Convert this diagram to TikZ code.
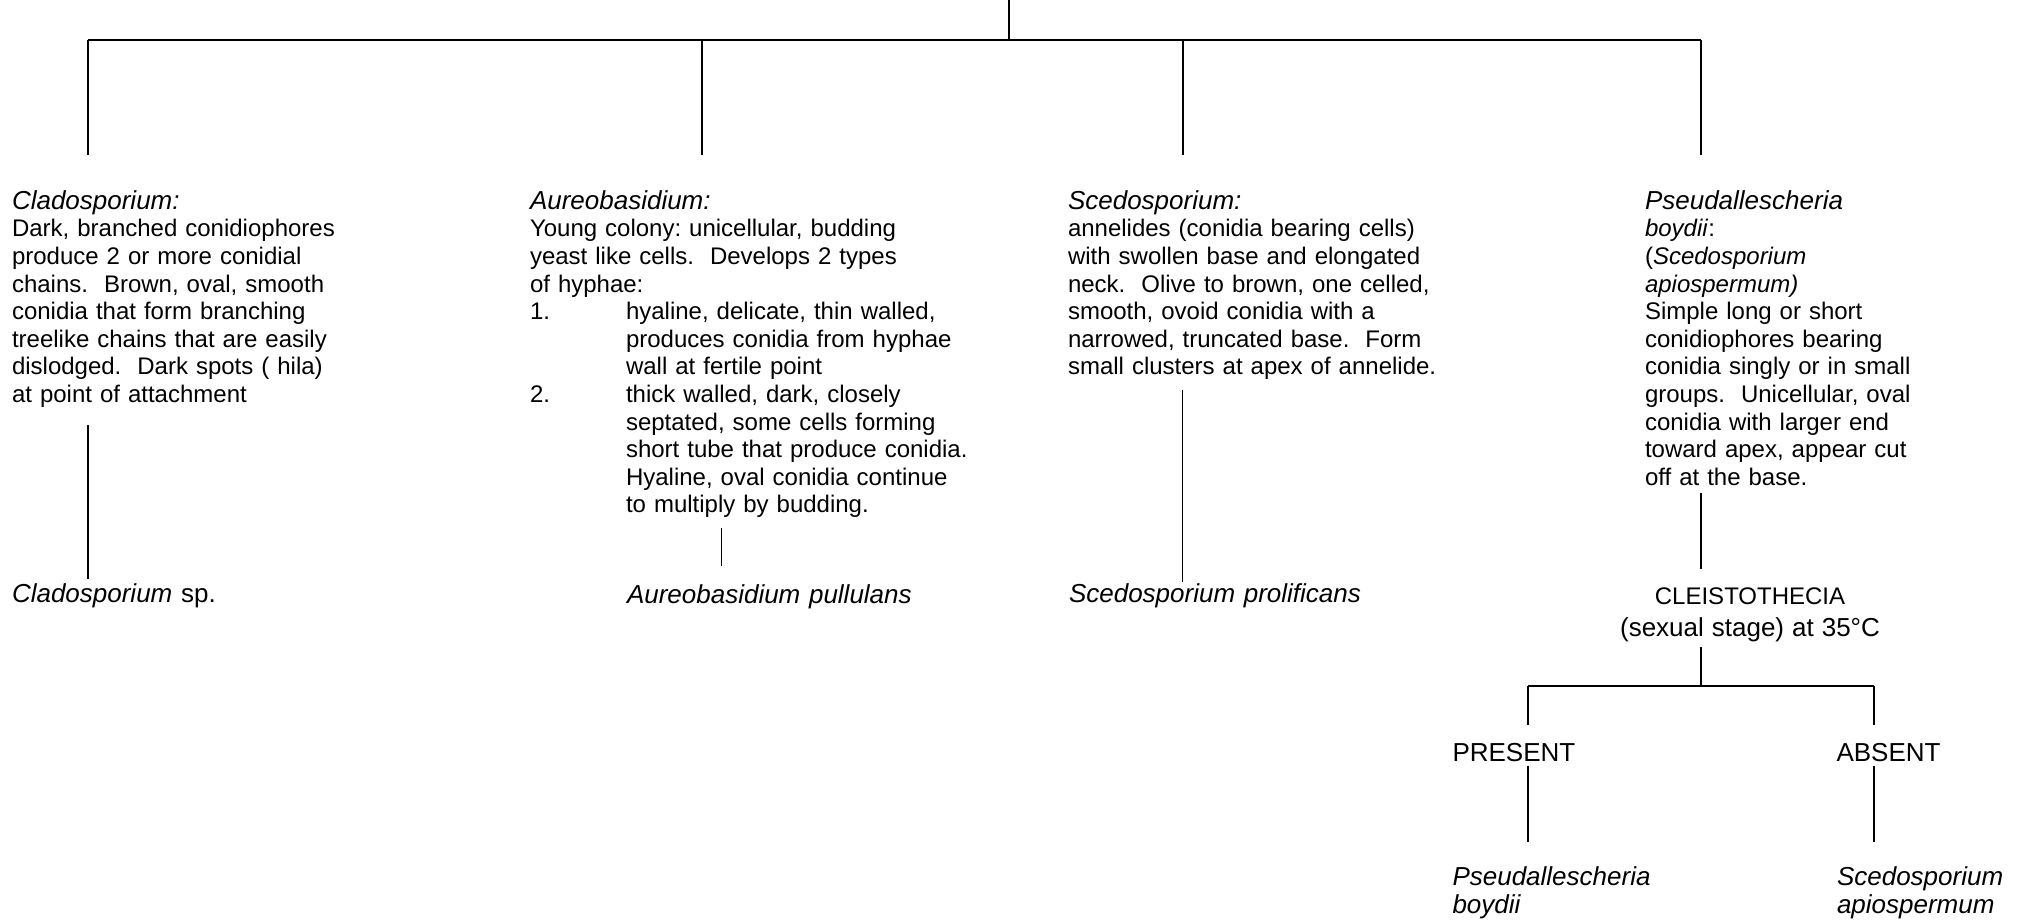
\documentclass[tikz,border=0pt]{standalone}
\usepackage{fontspec}
\setmainfont{Liberation Sans}
\usetikzlibrary{calc}
\frenchspacing

% italic genus heading, one size above the body text
\newcommand{\genushead}[1]{{\fontsize{13}{13.8}\selectfont\itshape #1}}
% hanging list number and indent for the numbered hyphae types
\newcommand{\listnum}[1]{\makebox[48pt][l]{#1}}
\newcommand{\listind}{\hspace*{48pt}}

\begin{document}
\begin{tikzpicture}[x=0.5pt,y=-0.5pt,
  conn/.style={draw=black,line width=0.7pt},
  desc/.style={inner sep=0pt,outer sep=0pt,anchor=base west,align=left,
    text width=#1,font=\fontsize{12}{13.8}\selectfont},
  desc/.default=300pt,
  result/.style={inner sep=0pt,outer sep=0pt,anchor=base west,align=left,
    text width=200pt,font=\fontsize{13}{14.2}\selectfont},
  stage/.style={inner sep=0pt,outer sep=0pt,anchor=base,align=center,
    text width=180pt,font=\fontsize{12}{13.8}\selectfont}]

\useasboundingbox (0,0) rectangle (2021,922);

% ---------- descriptions of the four genera ----------
\node[desc] (clad) at (12,209.3) {\genushead{Cladosporium:}\\
Dark, branched conidiophores\\
produce 2 or more conidial\\
chains.\ \ Brown, oval, smooth\\
conidia that form branching\\
treelike chains that are easily\\
dislodged.\ \ Dark spots ( hila)\\
at point of attachment};

\node[desc] (aureo) at (530,209.3) {\genushead{Aureobasidium:}\\
Young colony: unicellular, budding\\
yeast like cells.\ \ Develops 2 types\\
of hyphae:\\
\listnum{1.}hyaline, delicate, thin walled,\\
\listind produces conidia from hyphae\\
\listind wall at fertile point\\
\listnum{2.}thick walled, dark, closely\\
\listind septated, some cells forming\\
\listind short tube that produce conidia.\\
\listind Hyaline, oval conidia continue\\
\listind to multiply by budding.};

\node[desc] (sced) at (1068,209.3) {\genushead{Scedosporium:}\\
annelides (conidia bearing cells)\\
with swollen base and elongated\\
neck.\ \ Olive to brown, one celled,\\
smooth, ovoid conidia with a\\
narrowed, truncated base.\ \ Form\\
small clusters at apex of annelide.};

\node[desc=180pt] (pseud) at (1645,209.3) {\genushead{Pseudallescheria}\\
\textit{boydii}:\\
(\textit{Scedosporium}\\
\textit{apiospermum)}\\
Simple long or short\\
conidiophores bearing\\
conidia singly or in small\\
groups.\ \ Unicellular, oval\\
conidia with larger end\\
toward apex, appear cut\\
off at the base.};

% ---------- identifications ----------
\node[result] (cladsp) at (12,602.7) {\textit{Cladosporium} sp.};
\node[result] (aureosp) at (627,603.3) {\textit{Aureobasidium pullulans}};
\node[result] (scedsp) at (1069,602.7) {\textit{Scedosporium prolificans}};

\node[stage] (cleist) at (1750,604) {CLEISTOTHECIA\\[2.2pt]
{\fontsize{13}{13.8}\selectfont (sexual stage) at 35°C}};

\node[result] (present) at (1452.5,761) {PRESENT};
\node[result] (absent) at (1836.5,761) {ABSENT};

\node[result] (pboyd) at (1452.5,885) {\textit{Pseudallescheria}\\\textit{boydii}};
\node[result] (sapio) at (1837,885) {\textit{Scedosporium}\\\textit{apiospermum}};

% ---------- connector end points ----------
\coordinate (root) at (1009,0);
\coordinate (hub) at (1009,40);
\coordinate (b1) at (88,40);
\coordinate (b2) at (702,40);
\coordinate (b3) at (1183,40);
\coordinate (b4) at (1701,40);
\coordinate (b1e) at (88,155);
\coordinate (b2e) at (702,155);
\coordinate (b3e) at (1183,155);
\coordinate (b4e) at (1701,155);

\coordinate (cladT) at (88,425);
\coordinate (cladB) at (88,579);
\coordinate (aureoT) at (721.7,528);
\coordinate (aureoB) at (721.7,565.7);
\coordinate (scedT) at (1182.7,390);
\coordinate (scedB) at (1182.7,581.7);
\coordinate (pseudT) at (1701,492.7);
\coordinate (pseudB) at (1701,569.3);

\coordinate (cleistT) at (1701,647);
\coordinate (split) at (1701,686);
\coordinate (splitL) at (1528,686);
\coordinate (splitR) at (1874,686);
\coordinate (presT) at (1528,725);
\coordinate (absT) at (1874,725);
\coordinate (presB1) at (1528,765.7);
\coordinate (presB2) at (1528,841.7);
\coordinate (absB1) at (1874,765.7);
\coordinate (absB2) at (1874,841.7);

% ---------- tree ----------
\draw[conn] (root) -- (hub);
\draw[conn] (b1) -- (b4);
\draw[conn] (b1) -- (b1e);
\draw[conn] (b2) -- (b2e);
\draw[conn] (b3) -- (b3e);
\draw[conn] (b4) -- (b4e);

\draw[conn] (cladT) -- (cladB);
\draw[conn] (aureoT) -- (aureoB);
\draw[conn] (scedT) -- (scedB);
\draw[conn] (pseudT) -- (pseudB);

\draw[conn] (cleistT) -- (split);
\draw[conn] (splitL) -- (splitR);
\draw[conn] (splitL) -- (presT);
\draw[conn] (splitR) -- (absT);
\draw[conn] (presB1) -- (presB2);
\draw[conn] (absB1) -- (absB2);

\end{tikzpicture}
\end{document}
